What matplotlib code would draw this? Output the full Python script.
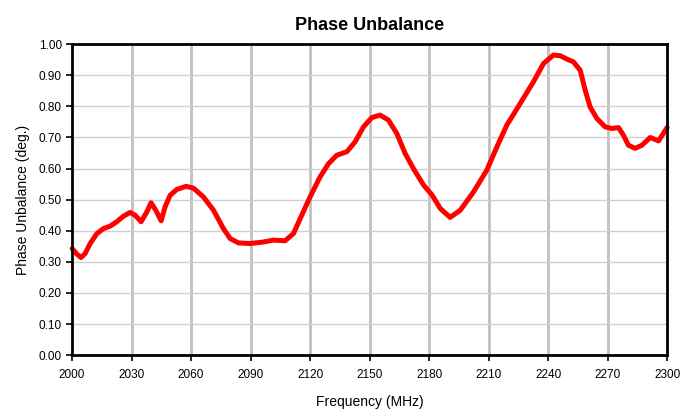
import matplotlib
matplotlib.use("Agg")
import matplotlib.pyplot as plt
from matplotlib.ticker import MultipleLocator, FormatStrFormatter

plt.rcParams['font.family'] = ['Liberation Sans', 'DejaVu Sans']

freq = [2000, 2002.4, 2004.5, 2006.6, 2009.1, 2012.5, 2015.8, 2019.2, 2022.5, 2025.9,
        2029.2, 2031.8, 2034.8, 2037.7, 2039.8, 2042.2, 2044.9, 2046.9, 2049.4, 2052.8,
        2057.5, 2061.2, 2066.2, 2071.3, 2076.3, 2079.7, 2083.9, 2089.8, 2096.5, 2101.5,
        2107.4, 2111.6, 2116.2, 2120, 2125, 2129.3, 2133.5, 2138.5, 2142.7, 2146.9,
        2151.1, 2155.3, 2159.5, 2163.7, 2167.9, 2172.1, 2177.2, 2181.5, 2185.6, 2190.6,
        2195.7, 2202.4, 2209.1, 2214.2, 2219.2, 2225.9, 2232.6, 2237.7, 2242.7, 2246.1,
        2249.5, 2252.8, 2256.2, 2258.7, 2261.2, 2264.6, 2268.8, 2272.2, 2275.5, 2278.0,
        2280.5, 2283.9, 2287.3, 2291.5, 2295.7, 2300]
phase = [0.343, 0.325, 0.314, 0.327, 0.359, 0.391, 0.407, 0.415, 0.429, 0.447,
         0.459, 0.450, 0.429, 0.461, 0.490, 0.466, 0.432, 0.477, 0.514, 0.533,
         0.543, 0.537, 0.509, 0.466, 0.407, 0.375, 0.361, 0.359, 0.364, 0.370,
         0.368, 0.391, 0.456, 0.509, 0.573, 0.616, 0.643, 0.654, 0.686, 0.734,
         0.764, 0.772, 0.756, 0.713, 0.649, 0.600, 0.547, 0.515, 0.472, 0.443,
         0.466, 0.525, 0.595, 0.670, 0.740, 0.809, 0.879, 0.938, 0.965, 0.963,
         0.952, 0.943, 0.916, 0.852, 0.798, 0.761, 0.734, 0.729, 0.732, 0.707,
         0.675, 0.665, 0.675, 0.700, 0.689, 0.732]

xticks = list(range(2000, 2301, 30))

fig = plt.figure(figsize=(7.0, 4.13), dpi=100)
ax = fig.add_axes([0.103, 0.140, 0.850, 0.753])

ax.plot(freq, phase, color='#ff0000', linewidth=3.6, solid_joinstyle='round',
        solid_capstyle='round', zorder=3, clip_on=False)

ax.set_xlim(2000, 2300)
ax.set_ylim(0, 1.0)
ax.set_xticks(xticks)
ax.yaxis.set_major_locator(MultipleLocator(0.1))
ax.yaxis.set_major_formatter(FormatStrFormatter('%.2f'))

for x in xticks[1:-1]:
    ax.axvline(x, color='#c0c0c0', linewidth=2.0, zorder=1)
for i in range(1, 10):
    ax.axhline(i / 10, color='#d0d0d0', linewidth=1.0, zorder=1)

for s in ax.spines.values():
    s.set_linewidth(2.0)
    s.set_color('black')
    s.set_zorder(4)

ax.tick_params(axis='both', direction='out', length=4, width=1.2, labelsize=8.5,
               colors='black')
ax.tick_params(axis='x', pad=6)

ax.set_title('Phase Unbalance', fontsize=13, fontweight='bold', pad=10)
ax.set_xlabel('Frequency (MHz)', fontsize=10, labelpad=10)
ax.set_ylabel('Phase Unbalance (deg.)', fontsize=10, labelpad=6)

fig.savefig('out.png', dpi=100)
